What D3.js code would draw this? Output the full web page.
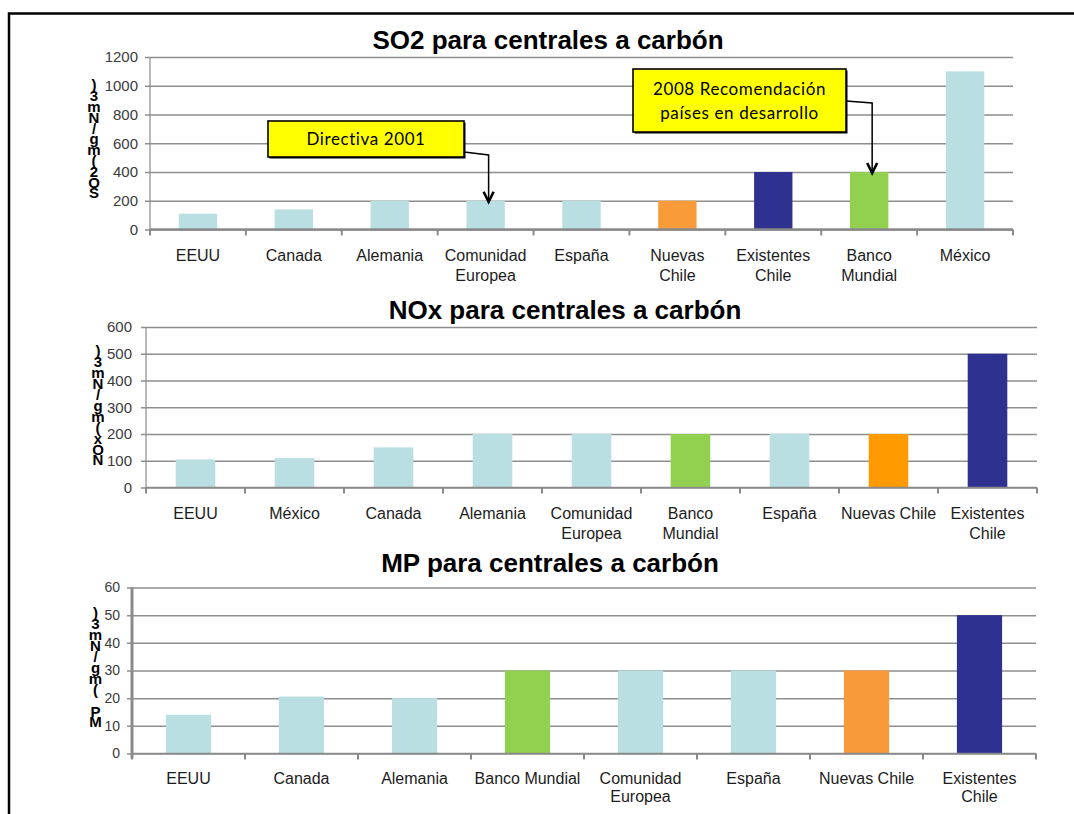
<!DOCTYPE html>
<html>
<head>
<meta charset="utf-8">
<script src="https://cdn.jsdelivr.net/npm/d3@7/dist/d3.min.js"></script>
<style>
  html, body { margin: 0; padding: 0; background: #fff; }
  svg { display: block; }
</style>
</head>
<body>
<svg id="chart" width="1074" height="814"></svg>
<script>
// ---- SO2 limits (mg/Nm3) ----
const so2Categories = ["EEUU", "Canada", "Alemania", "Comunidad\nEuropea", "España",
                       "Nuevas\nChile", "Existentes\nChile", "Banco\nMundial", "México"];
const so2Values = [110, 140, 200, 200, 200, 200, 400, 400, 1100];
const so2Ticks = [0, 200, 400, 600, 800, 1000, 1200];

// ---- NOx limits (mg/Nm3) ----
const noxCategories = ["EEUU", "México", "Canada", "Alemania", "Comunidad\nEuropea",
                       "Banco\nMundial", "España", "Nuevas Chile", "Existentes\nChile"];
const noxValues = [105, 110, 150, 200, 200, 200, 200, 200, 500];
const noxTicks = [0, 100, 200, 300, 400, 500, 600];

// ---- MP limits (mg/Nm3) ----
const mpCategories = ["EEUU", "Canada", "Alemania", "Banco Mundial", "Comunidad\nEuropea",
                      "España", "Nuevas Chile", "Existentes\nChile"];
const mpValues = [14, 20.6, 20, 30, 30, 30, 30, 50];
const mpTicks = [0, 10, 20, 30, 40, 50, 60];

// Call-outs on the SO2 chart
const so2NoteTexts = [["Directiva 2001"], ["2008 Recomendación", "países en desarrollo"]];
const so2NoteTargets = [3, 7];

// ---- styling ----
const FONT = "'Liberation Sans', Arial, Helvetica, sans-serif";
const LIGHT = "#b9dfe3";
const NAVY = "#2e3190";
const GREEN = "#92d050";

const svg = d3.select("#chart");

// outer frame
svg.append("path")
  .attr("d", "M9,814 V13.5 H1074")
  .attr("fill", "none")
  .attr("stroke", "#000")
  .attr("stroke-width", 2.5);

function drawChart(cfg) {
  const n = cfg.categories.length;
  const x = d3.scaleBand()
    .domain(d3.range(n))
    .range([cfg.x0, cfg.x1])
    .paddingInner(0.6)
    .paddingOuter(0.3);
  const y = d3.scaleLinear()
    .domain([0, d3.max(cfg.ticks)])
    .range([cfg.yZero, cfg.yTop]);

  const g = svg.append("g");

  // title
  g.append("text")
    .attr("x", cfg.titleX)
    .attr("y", cfg.titleY)
    .attr("text-anchor", "middle")
    .attr("font-family", FONT)
    .attr("font-weight", "bold")
    .attr("font-size", 26)
    .attr("fill", "#000")
    .text(cfg.title);

  // value axis with gridlines
  const yAxis = d3.axisLeft(y)
    .tickValues(cfg.ticks)
    .tickSize(-(cfg.x1 - cfg.x0 + 5))
    .tickPadding(cfg.tickPad)
    .tickFormat(d3.format("d"));
  const ya = g.append("g")
    .attr("transform", `translate(${cfg.x0 - 5},0)`)
    .call(yAxis);
  ya.select(".domain").remove();
  ya.selectAll(".tick line")
    .attr("stroke", "#8e8e8e")
    .attr("stroke-width", 1.5);
  ya.selectAll(".tick text")
    .attr("font-family", FONT)
    .attr("font-size", cfg.tickFont)
    .attr("fill", "#3a3a3a");

  // vertical axis line
  g.append("line")
    .attr("x1", cfg.x0).attr("x2", cfg.x0)
    .attr("y1", cfg.yTop).attr("y2", cfg.yZero + 5)
    .attr("stroke", "#8a8a8a")
    .attr("stroke-width", cfg.yAxisWidth);

  // bars
  g.selectAll("rect.bar")
    .data(cfg.values)
    .join("rect")
    .attr("class", "bar")
    .attr("x", (d, i) => x(i))
    .attr("width", x.bandwidth())
    .attr("y", d => y(d))
    .attr("height", d => y(0) - y(d))
    .attr("fill", (d, i) => cfg.colors[cfg.categories[i]] || LIGHT);

  // category axis line and boundary ticks
  g.append("line")
    .attr("x1", cfg.x0).attr("x2", cfg.x1)
    .attr("y1", y(0)).attr("y2", y(0))
    .attr("stroke", "#8a8a8a")
    .attr("stroke-width", cfg.xAxisWidth);
  const bounds = d3.range(n + 1).map(i => x.range()[0] + i * x.step());
  g.selectAll("line.xt")
    .data(bounds)
    .join("line")
    .attr("class", "xt")
    .attr("x1", d => d).attr("x2", d => d)
    .attr("y1", y(0)).attr("y2", y(0) + 6)
    .attr("stroke", "#8a8a8a")
    .attr("stroke-width", 2);

  // category labels
  const labels = g.selectAll("text.cat")
    .data(cfg.categories)
    .join("text")
    .attr("class", "cat")
    .attr("text-anchor", "middle")
    .attr("font-family", FONT)
    .attr("font-size", 16)
    .attr("fill", "#1c1c1c");
  labels.each(function (d, i) {
    const cx = x(i) + x.bandwidth() / 2;
    d3.select(this).selectAll("tspan")
      .data(d.split("\n"))
      .join("tspan")
      .attr("x", cx)
      .attr("y", (t, k) => cfg.labelY + k * cfg.labelGap)
      .text(t => t);
  });

  // stacked unit label
  const chars = cfg.unit.split("").reverse();
  g.selectAll("text.unit")
    .data(chars)
    .join("text")
    .attr("class", "unit")
    .attr("x", cfg.unitX)
    .attr("y", (c, k) => cfg.unitTop + k * cfg.unitStep)
    .attr("dy", "0.36em")
    .attr("text-anchor", "middle")
    .attr("font-family", FONT)
    .attr("font-weight", "bold")
    .attr("font-size", 15)
    .attr("fill", "#000")
    .text(c => c);

  return { x, y, g };
}

// ---- SO2 ----
const so2 = drawChart({
  title: "SO2 para centrales a carbón", titleX: 548, titleY: 49,
  categories: so2Categories, values: so2Values, ticks: so2Ticks,
  colors: { "Nuevas\nChile": "#f99b38", "Existentes\nChile": NAVY, "Banco\nMundial": GREEN },
  x0: 150, x1: 1013, yTop: 57, yZero: 229.5,
  tickPad: 7, tickFont: 15, yAxisWidth: 1.2, xAxisWidth: 2.5,
  labelY: 260.5, labelGap: 20,
  unit: "SO2(mg/Nm3)", unitX: 94, unitTop: 85, unitStep: 10.8
});

// ---- NOx ----
drawChart({
  title: "NOx para centrales a carbón", titleX: 565, titleY: 319,
  categories: noxCategories, values: noxValues, ticks: noxTicks,
  colors: { "Nuevas Chile": "#ff9a00", "Existentes\nChile": NAVY, "Banco\nMundial": GREEN },
  x0: 146, x1: 1037, yTop: 327, yZero: 487.5,
  tickPad: 9, tickFont: 15, yAxisWidth: 1.2, xAxisWidth: 1.5,
  labelY: 518.5, labelGap: 20,
  unit: "NOx(mg/Nm3)", unitX: 98, unitTop: 351, unitStep: 10.9
});

// ---- MP ----
drawChart({
  title: "MP para centrales a carbón", titleX: 550, titleY: 572,
  categories: mpCategories, values: mpValues, ticks: mpTicks,
  colors: { "Nuevas Chile": "#f99a3a", "Existentes\nChile": NAVY, "Banco Mundial": GREEN },
  x0: 132, x1: 1036, yTop: 587.5, yZero: 753.5,
  tickPad: 7, tickFont: 14, yAxisWidth: 3, xAxisWidth: 1.5,
  labelY: 783.5, labelGap: 18.5,
  unit: "MP (mg/Nm3)", unitX: 95.5, unitTop: 613, unitStep: 10.9
});

// ---- call-outs on the SO2 chart ----
const noteBoxes = [
  { x: 268, y: 121, w: 196, h: 36, elbowY: 155 },
  { x: 633, y: 69, w: 213, h: 63, elbowY: 103 }
];
so2NoteTexts.forEach((lines, k) => {
  const b = noteBoxes[k];
  const idx = so2NoteTargets[k];
  const tipX = so2.x(idx) + so2.x.bandwidth() / 2 + 3;
  const tipY = so2.y(so2Values[idx]) + 1;
  const ng = svg.append("g");

  // connector: box edge -> elbow -> down to the bar top
  const startY = b.y + b.h - 5;
  ng.append("path")
    .attr("d", `M${b.x + b.w},${k === 0 ? startY : b.y + 32} L${tipX},${b.elbowY} L${tipX},${tipY - 1}`)
    .attr("fill", "none")
    .attr("stroke", "#000")
    .attr("stroke-width", 1.5);
  ng.append("path")
    .attr("d", `M${tipX - 5},${tipY - 10} L${tipX},${tipY} L${tipX + 5},${tipY - 10}`)
    .attr("fill", "none")
    .attr("stroke", "#000")
    .attr("stroke-width", 2.6);

  // box with a slight shadow
  ng.append("rect")
    .attr("x", b.x + 1.5).attr("y", b.y + 1.5)
    .attr("width", b.w).attr("height", b.h)
    .attr("fill", "#000");
  ng.append("rect")
    .attr("x", b.x).attr("y", b.y)
    .attr("width", b.w).attr("height", b.h)
    .attr("fill", "#ffff00")
    .attr("stroke", "#000")
    .attr("stroke-width", 1.6);

  const t = ng.append("text")
    .attr("text-anchor", "middle")
    .attr("font-family", "Lato, 'Open Sans', sans-serif")
    .attr("font-size", 17)
    .attr("letter-spacing", 0.6)
    .attr("fill", "#000");
  const lineGap = 24;
  const firstY = b.y + b.h / 2 - (lines.length - 1) * lineGap / 2;
  t.selectAll("tspan")
    .data(lines)
    .join("tspan")
    .attr("x", b.x + b.w / 2)
    .attr("y", (d, i) => firstY + i * lineGap)
    .attr("dy", "0.36em")
    .text(d => d);
});
</script>
</body>
</html>
